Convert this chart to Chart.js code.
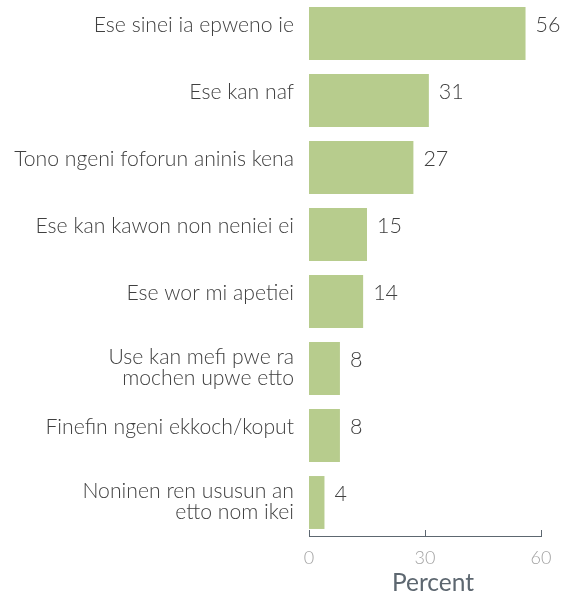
<!DOCTYPE html>
<html>
<head>
<meta charset="utf-8">
<script src="https://cdn.jsdelivr.net/npm/chart.js@4"></script>
<style>
  html, body { margin: 0; padding: 0; background: #fff; }
  #wrap { width: 561px; height: 596px; }
</style>
</head>
<body>
<div id="wrap"><canvas id="barChart" width="561" height="596"></canvas></div>
<script>
const categories = [
  'Ese sinei ia epweno ie',
  'Ese kan naf',
  'Tono ngeni foforun aninis kena',
  'Ese kan kawon non neniei ei',
  'Ese wor mi apetiei',
  ['Use kan mefi pwe ra', 'mochen upwe etto'],
  'Finefin ngeni ekkoch/koput',
  ['Noninen ren ususun an', 'etto nom ikei']
];
const values = [56, 31, 27, 15, 14, 8, 8, 4];
const xTicks = [0, 30, 60];
const xTitle = 'Percent';

const FONT = 'Lato, "Open Sans", sans-serif';
const axisColor = '#5d6770';
const textColor = '#404040';

// category labels, value labels, axis title and upward tick marks
const extras = {
  id: 'extras',
  afterDraw(chart) {
    const ctx = chart.ctx;
    const meta = chart.getDatasetMeta(0);
    const ys = chart.scales.y;
    const xs = chart.scales.x;
    ctx.save();
    ctx.fillStyle = textColor;
    ctx.textBaseline = 'middle';

    // category labels (single lines sit a bit above bar centre)
    ctx.font = '300 21.2px ' + FONT;
    ctx.textAlign = 'right';
    categories.forEach((lab, i) => {
      const y = ys.getPixelForValue(i);
      const lines = Array.isArray(lab) ? lab : [lab];
      const lh = 21;
      const start = lines.length === 1 ? y - 8 : y - 1 - lh * (lines.length - 1) / 2;
      lines.forEach((l, k) => ctx.fillText(l, ys.right - 15, start + k * lh));
    });

    // values
    ctx.font = '300 21.5px ' + FONT;
    ctx.textAlign = 'left';
    meta.data.forEach((bar, i) => {
      ctx.fillText(values[i], bar.x + 10, bar.y - 8);
    });

    // tick marks pointing up
    const y0 = xs.top;
    ctx.strokeStyle = axisColor;
    ctx.lineWidth = 1;
    xTicks.forEach(t => {
      const px = Math.round(xs.getPixelForValue(t)) + 0.5;
      ctx.beginPath();
      ctx.moveTo(px, y0);
      ctx.lineTo(px, y0 - 6);
      ctx.stroke();
    });

    // axis title
    ctx.font = '24.5px ' + FONT;
    ctx.fillStyle = axisColor;
    ctx.textAlign = 'center';
    ctx.textBaseline = 'alphabetic';
    ctx.fillText(xTitle, (xs.left + xs.right) / 2 + 8, xs.top + 55);
    ctx.restore();
  }
};

new Chart(document.getElementById('barChart'), {
  type: 'bar',
  data: {
    labels: categories,
    datasets: [{
      data: values,
      backgroundColor: '#b7cc8d',
      borderWidth: 0,
      categoryPercentage: 0.79,
      barPercentage: 1
    }]
  },
  options: {
    indexAxis: 'y',
    responsive: false,
    animation: false,
    layout: { padding: { top: -2, right: 20, left: 0, bottom: 0 } },
    plugins: { legend: { display: false }, tooltip: { enabled: false } },
    scales: {
      x: {
        min: 0, max: 60,
        afterBuildTicks: s => { s.ticks = xTicks.map(v => ({ value: v })); },
        afterFit: s => { s.height = 60; s.paddingLeft = 0; s.paddingRight = 0; },
        grid: { display: false, drawTicks: false },
        border: { display: true, color: axisColor, width: 1 },
        ticks: { color: '#a3a3a3', font: { family: FONT, size: 18, weight: 300 }, padding: 11 },
        title: { display: false }
      },
      y: {
        afterFit: s => { s.width = 309; s.paddingTop = 0; s.paddingBottom = 0; },
        grid: { display: false, drawTicks: false },
        border: { display: false },
        ticks: { display: false }
      }
    }
  },
  plugins: [extras]
});
</script>
</body>
</html>
